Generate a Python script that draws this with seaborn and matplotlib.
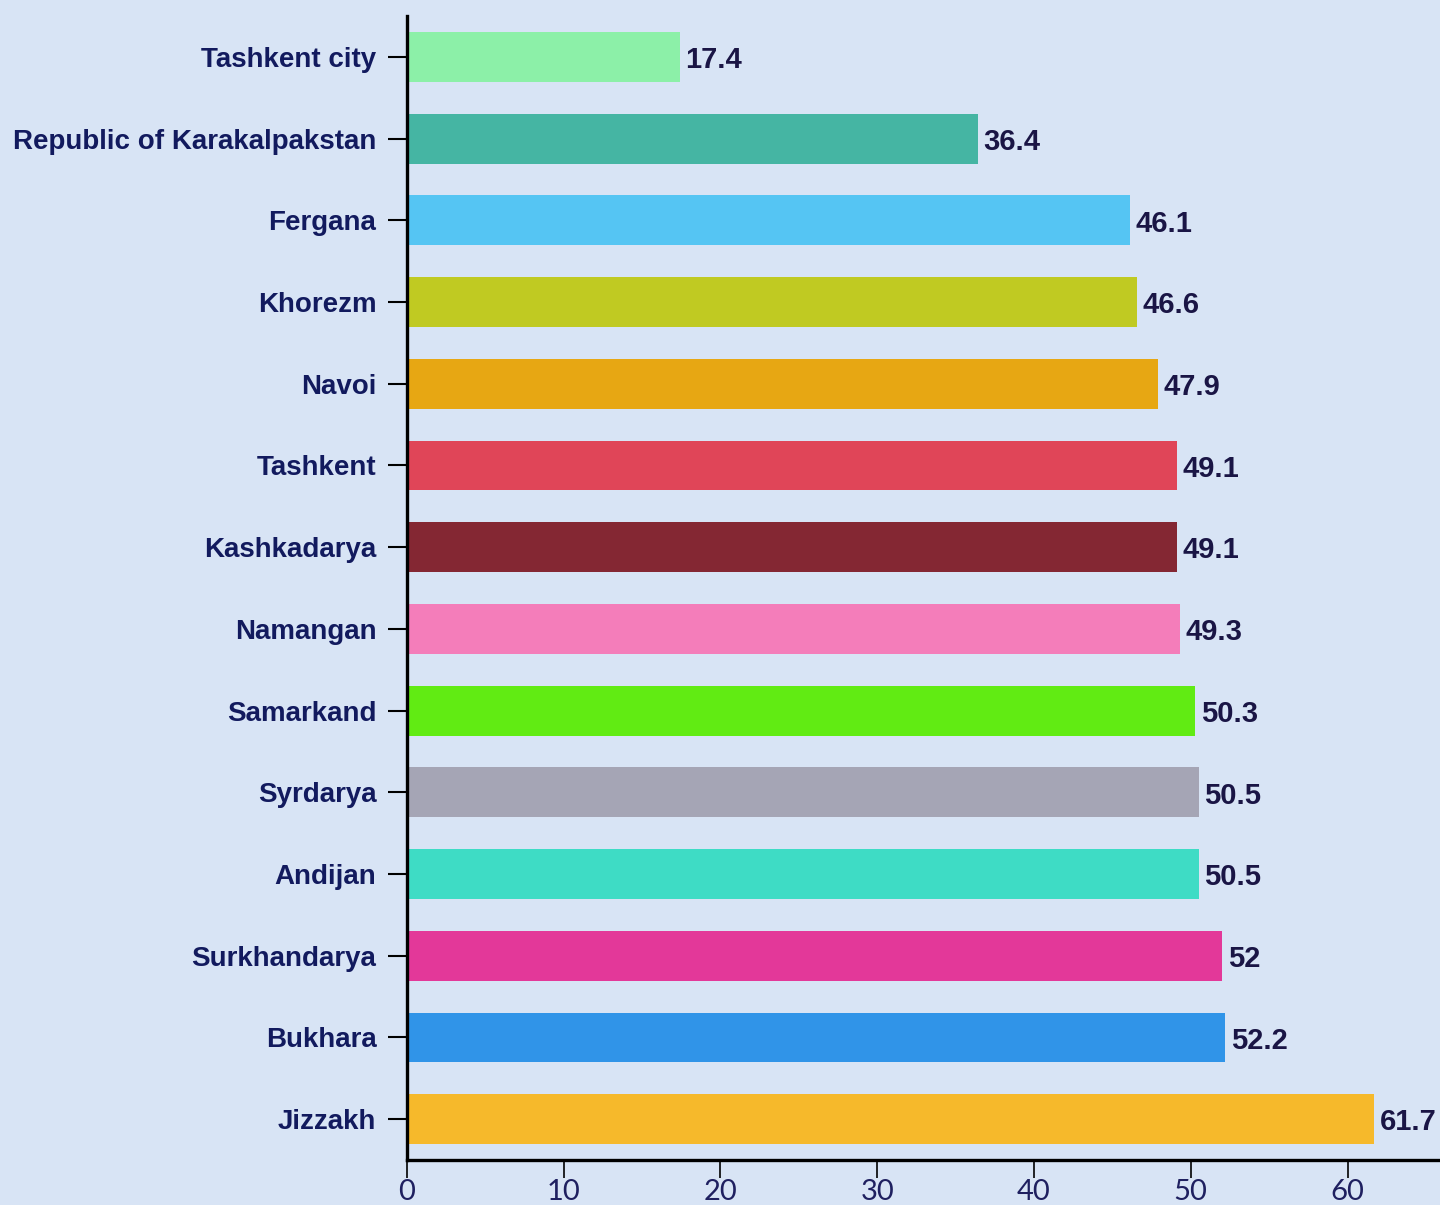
import matplotlib
matplotlib.use("Agg")
import matplotlib.pyplot as plt
import seaborn as sns
import pandas as pd

regions = ["Tashkent city", "Republic of Karakalpakstan", "Fergana", "Khorezm", "Navoi",
           "Tashkent", "Kashkadarya", "Namangan", "Samarkand", "Syrdarya", "Andijan",
           "Surkhandarya", "Bukhara", "Jizzakh"]
values = [17.4, 36.4, 46.1, 46.6, 47.9, 49.1, 49.1, 49.3, 50.3, 50.5, 50.5, 52, 52.2, 61.7]
colors = ["#8CF0A8", "#45B5A3", "#55C5F3", "#C0CA22", "#E7A713", "#E04558", "#842733",
          "#F47DBA", "#61EB13", "#A5A5B5", "#3EDCC5", "#E33899", "#3094E8", "#F6B92B"]
x_ticks = [0, 10, 20, 30, 40, 50, 60]

bg = "#D8E4F5"
sns.set_theme(style="white")
plt.rcParams['font.family'] = ['Liberation Sans', 'DejaVu Sans']

df = pd.DataFrame({"region": regions, "value": values})

fig = plt.figure(figsize=(14.4, 12.05), dpi=100, facecolor=bg)
ax = fig.add_axes([0.2826, 0.0373, 0.7174, 0.9494])
ax.set_facecolor(bg)

sns.barplot(data=df, y="region", x="value", hue="region", palette=colors,
            order=regions, hue_order=regions, legend=False, width=0.61,
            saturation=1, ax=ax, orient="h", linewidth=0, edgecolor="none")

for i, v in enumerate(values):
    ax.text(v + 0.35, i + 0.04, f"{v:g}", va="center", ha="left", fontsize=21,
            fontweight="bold", color="#1a1545", family="Liberation Sans")

ax.set_xlim(0, 65.9)
ax.set_ylim(13.5, -0.5)
ax.set_xticks(x_ticks)
ax.set_xticklabels([str(t) for t in x_ticks], fontsize=21, color="#1f2060",
                   family=["Lato", "DejaVu Sans"], fontweight="normal")
for lbl in ax.get_yticklabels():
    lbl.set_fontsize(20)
    lbl.set_fontweight("bold")
    lbl.set_color("#121a5e")
ax.set_xlabel("")
ax.set_ylabel("")

for s in ["top", "right"]:
    ax.spines[s].set_visible(False)
for s in ["left", "bottom"]:
    ax.spines[s].set_color("black")
    ax.spines[s].set_linewidth(2.4)

ax.tick_params(axis="y", length=14, width=1.5, color="black", pad=8, left=True)
ax.tick_params(axis="x", length=13, width=1.2, color="black", pad=1, bottom=True)

fig.savefig("out.png", dpi=100, facecolor=bg)
